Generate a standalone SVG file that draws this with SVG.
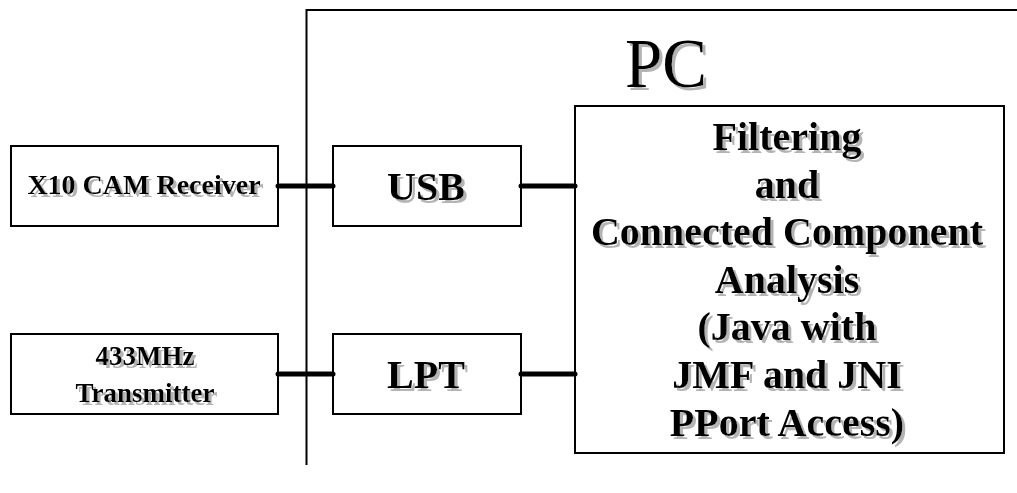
<svg xmlns="http://www.w3.org/2000/svg" width="1017" height="493" viewBox="0 0 1017 493">
  <defs>
    <filter id="shadow" x="-10%" y="-20%" width="130%" height="150%">
      <feOffset in="SourceAlpha" dx="2.5" dy="2.5" result="off"/>
      <feFlood flood-color="#b4b4b4"/>
      <feComposite in2="off" operator="in" result="sh"/>
      <feMerge>
        <feMergeNode in="sh"/>
        <feMergeNode in="SourceGraphic"/>
      </feMerge>
    </filter>
    <style>
      .box { fill: #ffffff; stroke: #000000; stroke-width: 2; }
      .frame { fill: none; stroke: #000000; stroke-width: 2; }
      .link { fill: none; stroke: #000000; stroke-width: 5; stroke-linecap: round; }
    </style>
  </defs>
  <rect width="1017" height="493" fill="#ffffff"/>

  <g id="pc-frame">
    <path class="frame" d="M306.5 465 V10 H1017"/>
    <text x="666" y="87" font-family="Liberation Serif, Times New Roman, serif" font-size="70" text-anchor="middle" fill="#000000" filter="url(#shadow)" textLength="82" lengthAdjust="spacingAndGlyphs">PC</text>
  </g>

  <g id="x10-receiver">
    <rect class="box" x="11" y="146" width="267" height="80"/>
    <text x="144" y="194" font-family="Liberation Serif, Times New Roman, serif" font-weight="bold" font-size="28" text-anchor="middle" fill="#000000" filter="url(#shadow)">X10 CAM Receiver</text>
  </g>

  <g id="transmitter">
    <rect class="box" x="11" y="334" width="267" height="80"/>
    <g font-family="Liberation Serif, Times New Roman, serif" font-weight="bold" font-size="27" text-anchor="middle" fill="#000000" filter="url(#shadow)">
      <text x="145" y="365">433MHz</text>
      <text x="145" y="402">Transmitter</text>
    </g>
  </g>

  <g id="usb">
    <rect class="box" x="333" y="146" width="188" height="80"/>
    <text x="426" y="200" font-family="Liberation Serif, Times New Roman, serif" font-weight="bold" font-size="40" text-anchor="middle" fill="#000000" filter="url(#shadow)">USB</text>
  </g>

  <g id="lpt">
    <rect class="box" x="333" y="334" width="188" height="80"/>
    <text x="426" y="388" font-family="Liberation Serif, Times New Roman, serif" font-weight="bold" font-size="40" text-anchor="middle" fill="#000000" filter="url(#shadow)">LPT</text>
  </g>

  <g id="processing">
    <rect class="box" x="575" y="106" width="429" height="347"/>
    <g font-family="Liberation Serif, Times New Roman, serif" font-weight="bold" font-size="40" text-anchor="middle" fill="#000000" filter="url(#shadow)">
      <text x="787" y="150">Filtering</text>
      <text x="787" y="198">and</text>
      <text x="787" y="245">Connected Component</text>
      <text x="787" y="293">Analysis</text>
      <text x="787" y="340">(Java with</text>
      <text x="787" y="388">JMF and JNI</text>
      <text x="787" y="436">PPort Access)</text>
    </g>
  </g>

  <g id="connectors">
    <line class="link" x1="278" y1="186" x2="333" y2="186"/>
    <line class="link" x1="521" y1="186" x2="575" y2="186"/>
    <line class="link" x1="278" y1="374" x2="333" y2="374"/>
    <line class="link" x1="521" y1="374" x2="575" y2="374"/>
  </g>
</svg>
